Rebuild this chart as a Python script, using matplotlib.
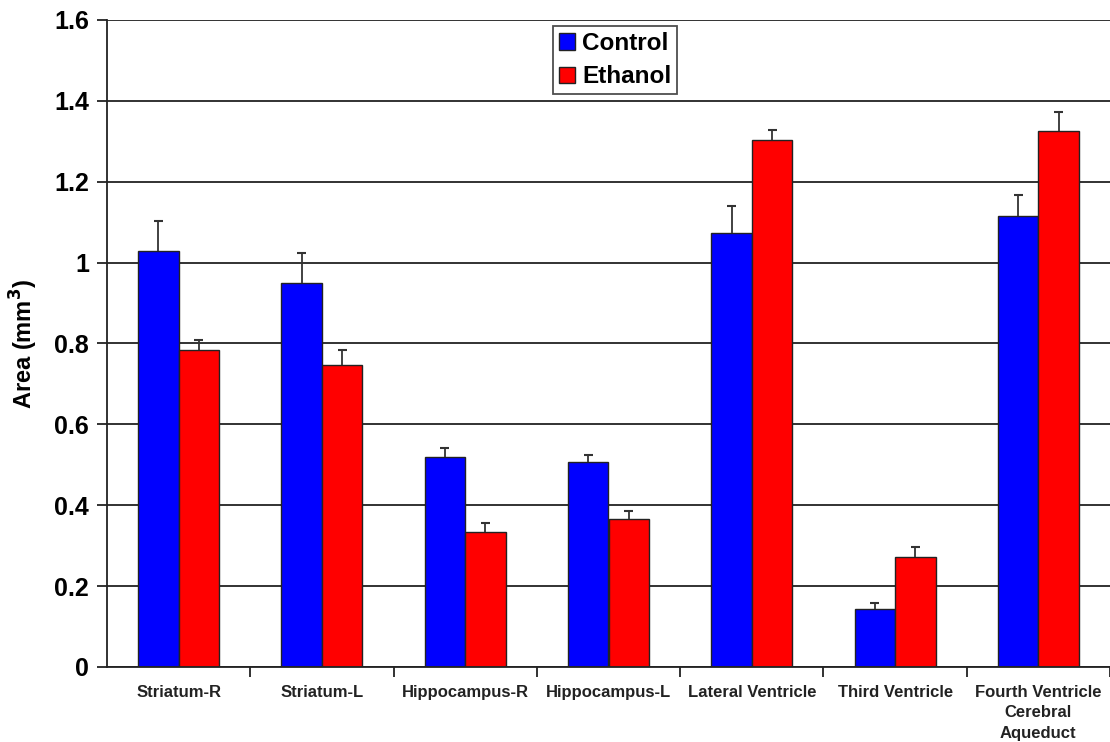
import numpy as np
import matplotlib
matplotlib.use('Agg')
import matplotlib.pyplot as plt

plt.rcParams['font.family'] = ['Liberation Sans', 'DejaVu Sans']
plt.rcParams['font.weight'] = 'bold'

regions = ['Striatum-R', 'Striatum-L', 'Hippocampus-R', 'Hippocampus-L',
           'Lateral Ventricle', 'Third Ventricle', 'Fourth Ventricle\nCerebral\nAqueduct']
control = [1.029, 0.950, 0.519, 0.507, 1.073, 0.143, 1.116]
control_err = [0.075, 0.075, 0.022, 0.018, 0.068, 0.016, 0.050]
ethanol = [0.784, 0.748, 0.333, 0.366, 1.304, 0.273, 1.325]
ethanol_err = [0.025, 0.037, 0.023, 0.021, 0.024, 0.024, 0.047]

fig = plt.figure(figsize=(11.1, 7.42), dpi=100)
ax = fig.add_axes([107 / 1110, 75 / 742, 1 - 107 / 1110, 647 / 742])

x = np.arange(len(regions))
w = 0.283
ax.set_axisbelow(True)
ax.yaxis.grid(True, color='#222222', linewidth=1.3)

ax.bar(x - w / 2, control, w, color='#0000ff', edgecolor='#222222', linewidth=1,
       label='Control', zorder=2)
ax.bar(x + w / 2, ethanol, w, color='#ff0000', edgecolor='#222222', linewidth=1,
       label='Ethanol', zorder=2)

# upper-only error bars
cap = 0.031
for xs, vals, errs in [(x - w / 2, control, control_err), (x + w / 2, ethanol, ethanol_err)]:
    vals = np.array(vals)
    tops = vals + np.array(errs)
    ax.vlines(xs, vals, tops, color='#333333', linewidth=1.3, zorder=3)
    ax.hlines(tops, xs - cap, xs + cap, color='#333333', linewidth=1.5, zorder=3)

ax.set_xlim(-0.5, -0.5 + (1110 - 107) / 144.9)
ax.set_ylim(0, 1.6)
ax.set_yticks(np.arange(0, 1.61, 0.2))
ax.set_yticklabels(['0', '0.2', '0.4', '0.6', '0.8', '1', '1.2', '1.4', '1.6'],
                   fontsize=18, fontweight='bold')
ax.set_xticks(x)
ax.set_xticklabels(regions, fontsize=12, fontweight='bold', color='#222222',
                   linespacing=1.45)
ax.set_xticks(np.arange(len(regions)) + 0.5, minor=True)
ax.tick_params(axis='x', which='major', length=0, pad=13)
ax.tick_params(axis='x', which='minor', length=7, width=1.3, color='#222222')
ax.tick_params(axis='y', length=7, width=1.3, color='#222222', pad=6)

for s in ['top', 'right']:
    ax.spines[s].set_visible(False)
for s in ['left', 'bottom']:
    ax.spines[s].set_color('#222222')
    ax.spines[s].set_linewidth(1.3)

ax.set_ylabel('Area (mm$^\\mathbf{3}$)', fontsize=17, fontweight='bold', labelpad=10)

leg = ax.legend(loc='upper center', bbox_to_anchor=((615 - 107) / 1003, 1 - 6 / 647),
                borderaxespad=0, frameon=True, fancybox=False, edgecolor='#222222',
                handlelength=0.65, handleheight=0.65, handletextpad=0.3,
                borderpad=0.25, labelspacing=0.42, prop={'weight': 'bold', 'size': 17.5})
leg.get_frame().set_linewidth(1.3)

fig.savefig('out.png', dpi=100)
